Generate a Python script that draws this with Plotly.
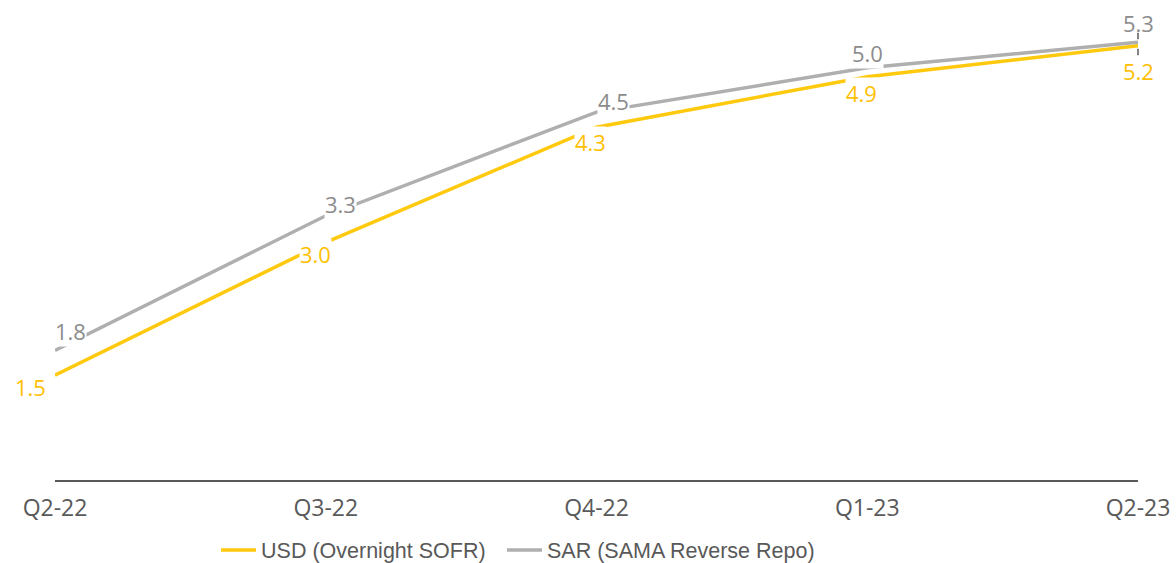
import plotly.graph_objects as go

categories = ["Q2-22", "Q3-22", "Q4-22", "Q1-23", "Q2-23"]
usd_sofr = [1.50, 3.00, 4.30, 4.87, 5.22]
sar_repo = [1.78, 3.30, 4.47, 4.97, 5.26]

series_names = ["USD (Overnight SOFR)", "SAR (SAMA Reverse Repo)"]
line_colors = ["#FFC90E", "#AFAFAF"]
label_colors = ["#FFC000", "#8C8C8C"]

# label offsets in pixels (style only)
usd_shift = [(-25, -12), (-10, -12), (-6, -15), (-6, -16), (0, -25)]
sar_shift = [(15, 19), (15, 12), (17, 11), (0, 15), (0, 19)]

fig = go.Figure()
for i, (name, vals, col) in enumerate([(series_names[0], usd_sofr, line_colors[0]),
                                       (series_names[1], sar_repo, line_colors[1])]):
    fig.add_trace(go.Scatter(x=categories, y=vals, mode="lines", name=name,
                             legend="legend" if i == 0 else "legend2",
                             line=dict(color=col, width=3.5)))

annotations = []
for vals, shifts, col in [(sar_repo, sar_shift, label_colors[1]),
                          (usd_sofr, usd_shift, label_colors[0])]:
    for c, v, (dx, dy) in zip(categories, vals, shifts):
        annotations.append(dict(x=c, y=v, xref="x", yref="y", text=f"{v:.1f}",
                                showarrow=False, xshift=dx, yshift=dy,
                                bgcolor="white", borderpad=0,
                                font=dict(family="Open Sans", size=22, color=col)))

# leader line for last labels
annotations.append(dict(x=categories[-1], y=sar_repo[-1], xref="x", yref="y", text="",
                        showarrow=True, arrowhead=0, arrowwidth=1.5, arrowcolor="#595959",
                        ax=0, ay=-11, standoff=3))
annotations.append(dict(x=categories[-1], y=usd_sofr[-1], xref="x", yref="y", text="",
                        showarrow=True, arrowhead=0, arrowwidth=1.5, arrowcolor="#595959",
                        ax=0, ay=11, standoff=3))

legend_style = dict(orientation="h", xanchor="left", y=-0.152, yanchor="middle",
                    font=dict(family="Liberation Sans", size=21.5, color="#595959"),
                    itemwidth=35, bgcolor="rgba(0,0,0,0)")

fig.update_layout(
    width=1176, height=563,
    margin=dict(l=55, r=38, t=20, b=83, autoexpand=False),
    plot_bgcolor="white", paper_bgcolor="white",
    showlegend=True,
    legend=dict(x=0.1487, **legend_style),
    legend2=dict(x=0.4127, **legend_style),
    annotations=annotations,
    xaxis=dict(type="category", range=[0, 4], showgrid=False, showline=True,
               linecolor="#595959", linewidth=2, ticks="", ticklabelstandoff=6,
               automargin=False,
               tickfont=dict(family="Open Sans", size=23, color="#595959")),
    yaxis=dict(range=[0.316, 5.51], showgrid=False, showline=False, zeroline=False,
               showticklabels=False, automargin=False),
)

fig.write_html("out.html", config={"displayModeBar": False},
               post_script="document.body.style.margin='0';document.body.style.overflow='hidden';")
